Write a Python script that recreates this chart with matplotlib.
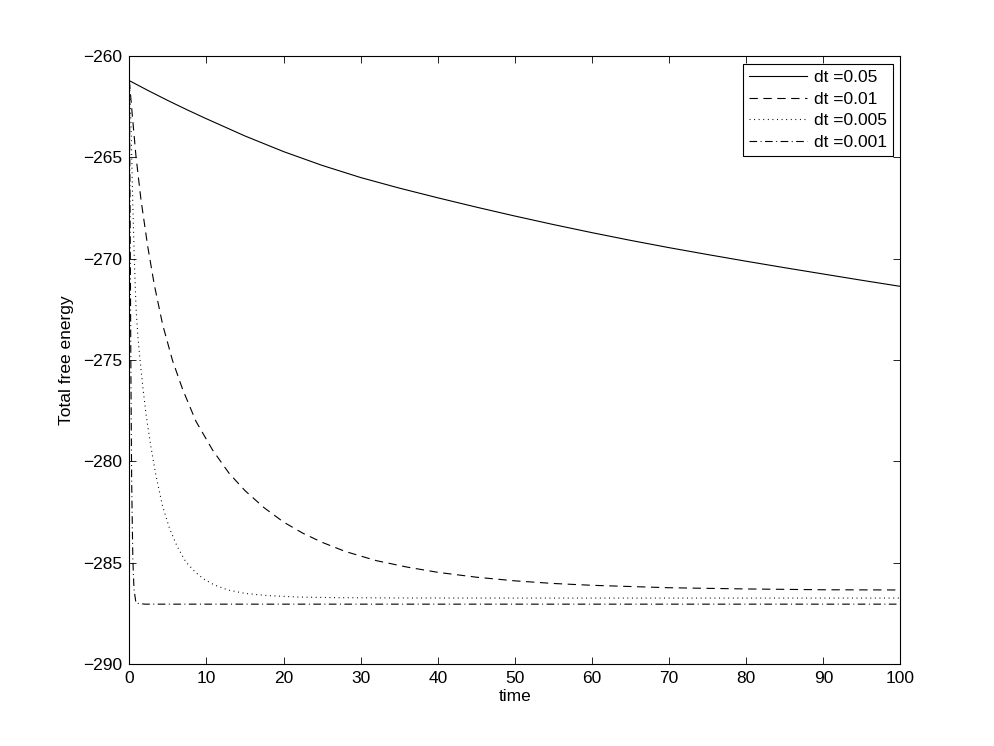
import matplotlib
matplotlib.use("Agg")
import matplotlib.pyplot as plt

# free energy vs time for four time steps
t_005 = [0, 2.5, 5, 7.5, 10, 15, 20, 25, 30, 35, 40, 45, 50, 55, 60, 65, 70,
         75, 80, 85, 90, 95, 100]
e_005 = [-261.22, -261.72, -262.2, -262.66, -263.1, -263.95, -264.72, -265.4,
         -266.0, -266.52, -267.0, -267.46, -267.9, -268.32, -268.72, -269.1,
         -269.46, -269.8, -270.13, -270.45, -270.76, -271.07, -271.37]

t_001 = [0, 0.4, 0.86, 1.5, 2.37, 3.24, 4.32, 5.6, 6.9, 8.64, 10.8, 12.95, 15,
         17.5, 20, 22.5, 25, 28, 32, 36, 40, 45, 50, 55, 60, 70, 80, 90, 100]
e_001 = [-261.22, -263.0, -264.95, -267.07, -269.37, -271.3, -273.26, -275.03,
         -276.44, -278.03, -279.45, -280.6, -281.45, -282.3, -283.0, -283.55,
         -284.0, -284.45, -284.9, -285.22, -285.48, -285.72, -285.9, -286.03,
         -286.12, -286.24, -286.3, -286.34, -286.35]

t_0005 = [0, 0.1, 0.22, 0.43, 0.65, 0.86, 1.1, 1.3, 1.73, 2.16, 2.8, 3.45, 4.3,
          5.2, 6.2, 7.3, 8.5, 9.6, 11, 12.8, 15, 18, 22, 27, 35, 50, 100]
e_0005 = [-261.22, -262.0, -263.5, -267.07, -270.08, -272.38, -273.8, -274.67,
          -276.27, -277.68, -279.3, -280.7, -282.2, -283.3, -284.2, -284.95,
          -285.45, -285.8, -286.1, -286.35, -286.52, -286.63, -286.7, -286.73,
          -286.745, -286.75, -286.75]

t_0001 = [0, 0.05, 0.1, 0.2, 0.3, 0.45, 0.6, 0.86, 2, 20, 50, 100]
e_0001 = [-261.22, -264.5, -268.0, -275.5, -281.0, -284.8, -286.3, -287.0,
          -287.05, -287.05, -287.05, -287.05]

labels = ["dt =0.05", "dt =0.01", "dt =0.005", "dt =0.001"]

plt.rcParams["font.family"] = ["Liberation Sans", "DejaVu Sans"]
plt.rcParams["font.size"] = 12.5
plt.rcParams["lines.scale_dashes"] = False

fig = plt.figure(figsize=(9.95, 7.46), dpi=100)
ax = fig.add_axes([0.13, 0.11, 0.775, 0.815])

lw = 0.8
ax.plot(t_005, e_005, color="black", lw=lw, linestyle="-", label=labels[0])
ax.plot(t_001, e_001, color="black", lw=lw, linestyle=(0, (6, 4)), label=labels[1])
ax.plot(t_0005, e_0005, color="black", lw=lw, linestyle=(0, (0.7, 2.6)), label=labels[2])
ax.plot(t_0001, e_0001, color="black", lw=lw, linestyle=(0, (5.5, 2.5, 0.7, 2.5)), label=labels[3])

ax.set_xlim(0, 100)
ax.set_ylim(-290, -260)
ax.set_xticks(range(0, 101, 10))
ax.set_yticks(range(-290, -259, 5))
ax.tick_params(direction="in", length=5, width=0.6, top=True, right=True, pad=5)
for s in ax.spines.values():
    s.set_linewidth(0.8)

ax.set_xlabel("time", labelpad=2)
ax.set_ylabel("Total free energy", labelpad=6.5)

leg = ax.legend(loc="upper right", fancybox=False, framealpha=1, edgecolor="black",
                handlelength=3.3, handletextpad=0.4, labelspacing=0.38,
                borderpad=0.35, borderaxespad=0.45)
leg.get_frame().set_linewidth(0.8)

fig.savefig("out.png", dpi=100)
